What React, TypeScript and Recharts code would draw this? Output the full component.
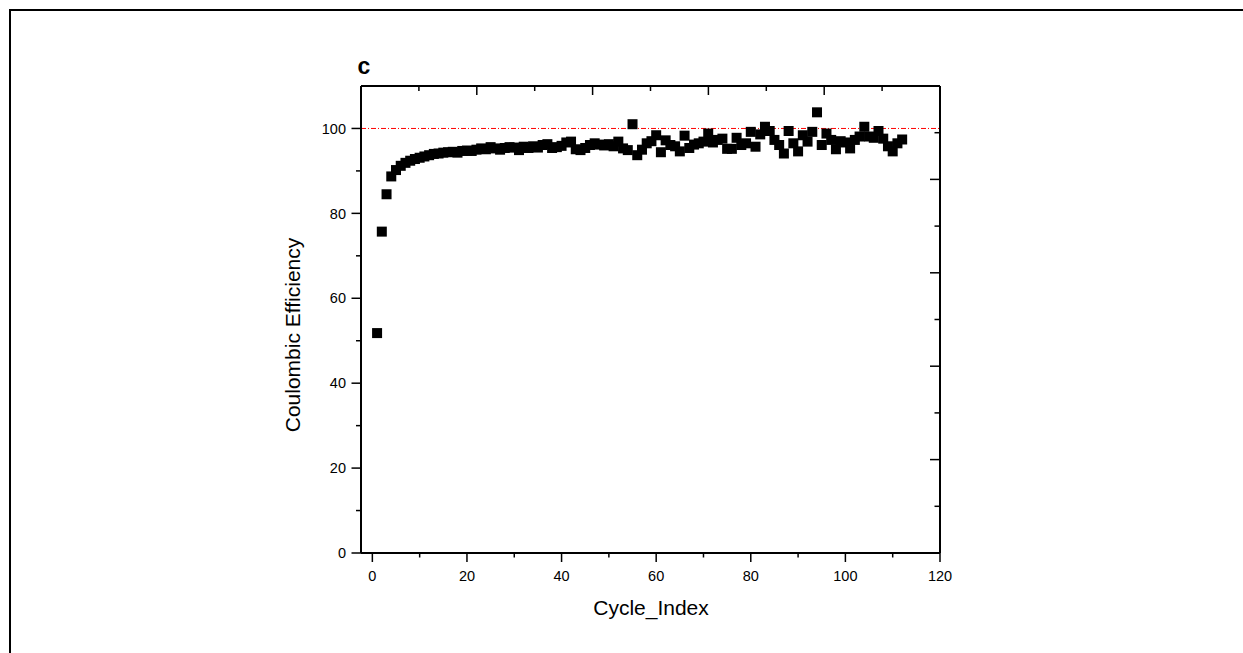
import React from 'react';
import { ScatterChart, Scatter, XAxis, YAxis, ReferenceLine } from 'recharts';

const cycleIndex = [
  1, 2, 3, 4, 5, 6, 7, 8, 9, 10, 11, 12, 13, 14, 15, 16, 17, 18, 19, 20,
  21, 22, 23, 24, 25, 26, 27, 28, 29, 30, 31, 32, 33, 34, 35, 36, 37, 38, 39, 40,
  41, 42, 43, 44, 45, 46, 47, 48, 49, 50, 51, 52, 53, 54, 55, 56, 57, 58, 59, 60,
  61, 62, 63, 64, 65, 66, 67, 68, 69, 70, 71, 72, 73, 74, 75, 76, 77, 78, 79, 80,
  81, 82, 83, 84, 85, 86, 87, 88, 89, 90, 91, 92, 93, 94, 95, 96, 97, 98, 99, 100,
  101, 102, 103, 104, 105, 106, 107, 108, 109, 110, 111, 112,
];

const coulombicEfficiency = [
  51.8, 75.7, 84.5, 88.7, 90.2, 91.2, 91.9, 92.4, 92.8, 93.1,
  93.4, 93.7, 94.0, 94.1, 94.3, 94.4, 94.5, 94.3, 94.7, 94.8,
  94.7, 95.0, 95.3, 95.1, 95.6, 95.3, 95.0, 95.4, 95.6, 95.5,
  94.9, 95.7, 95.4, 95.8, 95.5, 96.1, 96.3, 95.4, 95.6, 95.9,
  96.7, 96.9, 95.1, 94.9, 95.4, 96.1, 96.5, 96.2, 96.0, 96.3,
  95.8, 96.9, 95.3, 94.9, 101.0, 93.7, 95.0, 96.5, 97.0, 98.4,
  94.4, 97.2, 96.1, 95.8, 94.6, 98.3, 95.4, 96.2, 96.5, 96.9,
  98.8, 96.7, 97.3, 97.6, 95.2, 95.2, 97.8, 96.1, 96.5, 99.2,
  95.7, 98.6, 100.4, 99.4, 97.3, 96.1, 94.1, 99.4, 96.5, 94.6,
  98.4, 96.9, 99.2, 103.8, 96.1, 98.8, 97.3, 95.1, 97.0, 96.7,
  95.3, 97.3, 98.1, 100.4, 98.1, 97.8, 99.4, 97.6, 95.8, 94.6,
  96.5, 97.4,
];

const X_MIN = -2.4;
const X_MAX = 120;
const Y_MAX = 110;
const xTicks = [0, 10, 20, 30, 40, 50, 60, 70, 80, 90, 100, 110, 120];
const xLabelStep = 20;
const yTicks = [0, 10, 20, 30, 40, 50, 60, 70, 80, 90, 100];
const yLabelStep = 20;
const mirrorTicks = [0, 1, 2, 3, 4, 5, 6, 7, 8, 9, 10];
const referenceEfficiency = 100;

const xTitle = 'Cycle_Index';
const yTitle = 'Coulombic Efficiency';
const panelLabel = 'c';

const data = cycleIndex.map((c, i) => ({ cycle: c, ce: coulombicEfficiency[i] }));

// the top frame axis is split into 10 equal steps of the bottom x domain
const topTickValues = mirrorTicks.map((k) => X_MIN + (k * (X_MAX - X_MIN)) / 10);
const PLOT_HEIGHT = 467;
const yUnitsPerPx = Y_MAX / PLOT_HEIGHT;

const FONT = "Arial, 'Liberation Sans', Helvetica, sans-serif";
const TICK_FONT = 14.5;
const TITLE_FONT = 21;

const BottomTick = (props: any) => {
  const { x, y, payload } = props;
  const v = payload.value;
  const major = v % xLabelStep === 0;
  return (
    <g>
      <line x1={x} x2={x} y1={y} y2={y + (major ? 9 : 4.5)} stroke="#000" strokeWidth={1.5} />
      {major && (
        <text x={x} y={y + 27.5} textAnchor="middle" fontSize={TICK_FONT} fontFamily={FONT} fill="#000">
          {v}
        </text>
      )}
    </g>
  );
};

const LeftTick = (props: any) => {
  const { x, y, payload } = props;
  const v = payload.value;
  const major = v % yLabelStep === 0;
  return (
    <g>
      <line x1={x} x2={x - (major ? 9.5 : 5)} y1={y} y2={y} stroke="#000" strokeWidth={1.5} />
      {major && (
        <text x={x - 15} y={y + 5.2} textAnchor="end" fontSize={TICK_FONT} fontFamily={FONT} fill="#000">
          {v}
        </text>
      )}
    </g>
  );
};

const TopTick = (props: any) => {
  const x = Number(props.x);
  const y = Number(props.y);
  const major = Number(props.payload.value) % 2 === 0;
  return <line x1={x} x2={x} y1={y} y2={y + (major ? 9 : 5)} stroke="#000" strokeWidth={1.5} />;
};

const RightTick = (props: any) => {
  const { x, y, payload } = props;
  const major = payload.value % 2 === 0;
  return <line x1={x} x2={x - (major ? 10 : 5.5)} y1={y} y2={y} stroke="#000" strokeWidth={1.5} />;
};

const SquareMarker = (props: any) => {
  const { cx, cy } = props;
  if (cx == null || cy == null) return null;
  const s = 10;
  return <rect x={cx - s / 2} y={cy - s / 2} width={s} height={s} fill="#000" />;
};

const axisLine = { stroke: '#000', strokeWidth: 2 };

export default function App() {
  return (
    <div
      style={{
        position: 'absolute',
        left: 0,
        top: 0,
        width: 1243,
        height: 653,
        overflow: 'hidden',
        background: '#fff',
      }}
    >
      <div
        style={{
          position: 'absolute',
          left: 9,
          top: 9,
          width: 1300,
          height: 700,
          borderTop: '2px solid #000',
          borderLeft: '2px solid #000',
          boxSizing: 'border-box',
        }}
      />
      <div style={{ position: 'absolute', left: 0, top: 0 }}>
        <ScatterChart
          width={1243}
          height={653}
          margin={{ top: 66, right: 302, bottom: 60, left: 301 }}
        >
          <XAxis
            xAxisId="bottom"
            dataKey="cycle"
            type="number"
            orientation="bottom"
            domain={[X_MIN, X_MAX]}
            ticks={xTicks}
            interval={0}
            height={40}
            tickSize={0}
            tickMargin={0}
            axisLine={axisLine}
            tickLine={false}
            tick={(p: any) => <BottomTick {...p} />}
            allowDataOverflow
          />
          <XAxis
            xAxisId="frameTop"
            type="number"
            orientation="top"
            domain={[0, 10]}
            ticks={mirrorTicks}
            interval={0}
            height={20}
            tickSize={0}
            tickMargin={0}
            axisLine={axisLine}
            tickLine={false}
            tick={(p: any) => <TopTick {...p} />}
            allowDataOverflow
          />
          <YAxis
            yAxisId="left"
            dataKey="ce"
            type="number"
            orientation="left"
            domain={[0, Y_MAX]}
            ticks={yTicks}
            interval={0}
            width={60}
            tickSize={0}
            tickMargin={0}
            axisLine={axisLine}
            tickLine={false}
            tick={(p: any) => <LeftTick {...p} />}
            allowDataOverflow
          />
          <YAxis
            yAxisId="right"
            type="number"
            orientation="right"
            domain={[0, 10]}
            ticks={mirrorTicks}
            interval={0}
            width={1}
            tickSize={0}
            tickMargin={0}
            axisLine={axisLine}
            tickLine={false}
            tick={(p: any) => <RightTick {...p} />}
            allowDataOverflow
          />
          {topTickValues.map((xv, k) => (
            <ReferenceLine
              key={`top-tick-${k}`}
              xAxisId="bottom"
              yAxisId="left"
              segment={[
                { x: xv, y: Y_MAX },
                { x: xv, y: Y_MAX - (k % 2 === 0 ? 9 : 5) * yUnitsPerPx },
              ]}
              stroke="#000"
              strokeWidth={1.5}
              ifOverflow="visible"
            />
          ))}
          <ReferenceLine
            xAxisId="bottom"
            yAxisId="left"
            y={referenceEfficiency}
            stroke="#ff0000"
            strokeWidth={1}
            strokeDasharray="5 2 1 2"
          />
          <Scatter
            xAxisId="bottom"
            yAxisId="left"
            data={data}
            dataKey="ce"
            fill="#000"
            shape={(p: any) => <SquareMarker {...p} />}
            isAnimationActive={false}
          />
        </ScatterChart>
      </div>
      <svg
        width={1243}
        height={653}
        style={{ position: 'absolute', left: 0, top: 0, pointerEvents: 'none' }}
      >
        <text x={357.5} y={74} fontSize={23} fontWeight="bold" fontFamily={FONT} fill="#000">
          {panelLabel}
        </text>
        <text x={651} y={615} textAnchor="middle" fontSize={TITLE_FONT} fontFamily={FONT} fill="#000">
          {xTitle}
        </text>
        <text
          transform="translate(299.5,335) rotate(-90)"
          x={0}
          y={0}
          textAnchor="middle"
          fontSize={TITLE_FONT}
          fontFamily={FONT}
          fill="#000"
        >
          {yTitle}
        </text>
      </svg>
    </div>
  );
}
